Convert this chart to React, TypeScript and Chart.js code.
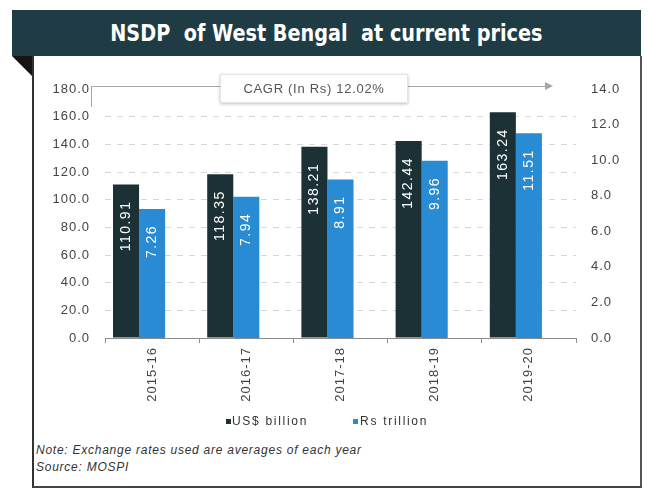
import React, { useEffect, useRef } from 'react';
import { Chart, registerables } from 'chart.js';

Chart.register(...registerables);

// ---- data ----
const categories = ['2015-16', '2016-17', '2017-18', '2018-19', '2019-20'];
const usdBillion = [110.91, 118.35, 138.21, 142.44, 163.24];
const rsTrillion = [7.26, 7.94, 8.91, 9.96, 11.51];
const spacer = [null, null, null, null, null];
const seriesNames = ['US$ billion', 'Rs trillion'];
const leftAxis = { min: 0, max: 180, step: 20 };
const rightAxis = { min: 0, max: 14, step: 2 };
const titleText = 'NSDP  of West Bengal  at current prices';
const cagrText = 'CAGR (In Rs) 12.02%';
const noteText = 'Note: Exchange rates used are averages of each year';
const sourceText = 'Source: MOSPI';

// ---- styles ----
const DARK = '#1b3136';
const BLUE = '#2a8bd5';
const HEADER = '#1f3c45';
const FONT = '"Liberation Sans", Arial, sans-serif';

const barLabels = {
  id: 'barLabels',
  afterDatasetsDraw(chart: any) {
    const ctx = chart.ctx;
    [0, 1].forEach((di) => {
      const meta = chart.getDatasetMeta(di);
      const ds = chart.data.datasets[di];
      meta.data.forEach((bar: any, i: number) => {
        const v = ds.data[i] as number;
        ctx.save();
        ctx.translate(bar.x, bar.y + 16);
        ctx.rotate(-Math.PI / 2);
        ctx.font = '14px ' + FONT;
        (ctx as any).letterSpacing = '1.5px';
        ctx.fillStyle = '#ffffff';
        ctx.textAlign = 'right';
        ctx.textBaseline = 'middle';
        ctx.fillText(v.toFixed(2), 0, 0);
        ctx.restore();
      });
    });
  },
};

const spacing = {
  id: 'spacing',
  beforeDraw(chart: any) {
    (chart.ctx as any).letterSpacing = '1px';
  },
};

function ChartCanvas() {
  const ref = useRef<HTMLCanvasElement>(null);
  useEffect(() => {
    if (!ref.current) return;
    const chart = new Chart(ref.current, {
      type: 'bar',
      data: {
        labels: categories,
        datasets: [
          { label: seriesNames[0], data: usdBillion, backgroundColor: DARK, yAxisID: 'y', categoryPercentage: 0.83, barPercentage: 1 },
          { label: seriesNames[1], data: rsTrillion, backgroundColor: BLUE, yAxisID: 'y1', categoryPercentage: 0.83, barPercentage: 1 },
          { label: '', data: spacer as any, backgroundColor: 'rgba(0,0,0,0)', yAxisID: 'y', categoryPercentage: 0.83, barPercentage: 1 },
        ],
      },
      options: {
        animation: false,
        responsive: false,
        maintainAspectRatio: false,
        layout: { padding: { top: 33, left: 0, right: 0, bottom: 0 } },
        plugins: { legend: { display: false }, tooltip: { enabled: false } },
        scales: {
          x: {
            grid: { drawOnChartArea: false, drawTicks: true, tickLength: 5, color: '#8c8c8c', offset: true },
            border: { display: true, color: '#8c8c8c', width: 1 },
            ticks: { minRotation: 90, maxRotation: 90, autoSkip: false, padding: 4, color: '#444', font: { family: FONT, size: 13 } },
            afterFit: (s: any) => { s.height = 102; },
          },
          y: {
            position: 'left',
            min: leftAxis.min,
            max: leftAxis.max,
            ticks: { stepSize: leftAxis.step, padding: 15, color: '#444', font: { family: FONT, size: 13 }, callback: (v: any) => Number(v).toFixed(1) },
            grid: {
              drawTicks: false,
              color: (c: any) => (c.tick && (c.tick.value === 0 || c.tick.value === 180) ? 'rgba(0,0,0,0)' : '#d6d6d6'),
            },
            border: { display: false, dash: [6, 6] },
            afterFit: (s: any) => { s.width = 72; },
          },
          y1: {
            position: 'right',
            min: rightAxis.min,
            max: rightAxis.max,
            ticks: { stepSize: rightAxis.step, padding: 15, color: '#444', font: { family: FONT, size: 13 }, callback: (v: any) => Number(v).toFixed(1) },
            grid: { display: false, drawTicks: false },
            border: { display: false },
            afterFit: (s: any) => { s.width = 65; },
          },
        },
      },
      plugins: [spacing, barLabels],
    });
    return () => chart.destroy();
  }, []);
  return <canvas ref={ref} width={608} height={384} style={{ position: 'absolute', left: 33, top: 56, width: 608, height: 384 }} />;
}

export default function App() {
  return (
    <div style={{ position: 'fixed', left: 0, top: 0, width: 648, height: 488, background: '#fff', fontFamily: FONT, overflow: 'hidden' }}>
      {/* header */}
      <div style={{ position: 'absolute', left: 12, top: 10, width: 629, height: 46, background: HEADER }} />
      <div style={{ position: 'absolute', left: 12, top: 10, width: 629, height: 46, display: 'flex', alignItems: 'center', justifyContent: 'center', color: '#fff', fontFamily: '"Liberation Sans Narrow", "DejaVu Sans Condensed", Arial, sans-serif', fontWeight: 'bold', fontSize: 23, whiteSpace: 'pre' }}>
        <span style={{ display: 'inline-block', transform: 'scaleX(0.93)' }}>{titleText}</span>
      </div>
      {/* fold */}
      <div style={{ position: 'absolute', left: 12, top: 56, width: 0, height: 0, borderTop: '21px solid #151515', borderLeft: '21px solid transparent' }} />
      {/* frame */}
      <div style={{ position: 'absolute', left: 32, top: 56, width: 610, height: 432, boxSizing: 'border-box', borderLeft: '2px solid #333', borderRight: '2px solid #555', borderBottom: '2px solid #444' }} />

      <ChartCanvas />

      {/* CAGR annotation */}
      <div style={{ position: 'absolute', left: 91, top: 86, width: 456, height: 0, borderTop: '1.5px solid #a6a6a6' }} />
      <div style={{ position: 'absolute', left: 91, top: 86, width: 0, height: 21, borderLeft: '1.5px solid #a6a6a6' }} />
      <div style={{ position: 'absolute', left: 545, top: 82, width: 0, height: 0, borderLeft: '8px solid #a6a6a6', borderTop: '4.5px solid transparent', borderBottom: '4.5px solid transparent' }} />
      <div style={{ position: 'absolute', left: 220, top: 74, width: 188, height: 29, boxSizing: 'border-box', background: '#fff', border: '1px solid #e4e4e4', boxShadow: '0 1px 3px rgba(0,0,0,0.25)', display: 'flex', alignItems: 'center', justifyContent: 'center', color: '#555', fontSize: 13, letterSpacing: 0.7, whiteSpace: 'pre' }}>
        {cagrText}
      </div>

      {/* legend */}
      <div style={{ position: 'absolute', left: 226, top: 413, height: 16, display: 'flex', alignItems: 'center', fontSize: 12, color: '#333', letterSpacing: 1.7, whiteSpace: 'pre' }}>
        <span style={{ display: 'inline-block', width: 5, height: 5, background: DARK, marginRight: 1 }} />
        <span>{seriesNames[0]}</span>
        <span style={{ display: 'inline-block', width: 45 }} />
        <span style={{ display: 'inline-block', width: 5, height: 5, background: BLUE, marginRight: 2 }} />
        <span>{seriesNames[1]}</span>
      </div>

      {/* notes */}
      <div style={{ position: 'absolute', left: 36, top: 443, fontSize: 12, fontStyle: 'italic', color: '#333', letterSpacing: 0.75, whiteSpace: 'pre' }}>{noteText}</div>
      <div style={{ position: 'absolute', left: 36, top: 460, fontSize: 12, fontStyle: 'italic', color: '#333', letterSpacing: 0.75, whiteSpace: 'pre' }}>{sourceText}</div>
    </div>
  );
}
